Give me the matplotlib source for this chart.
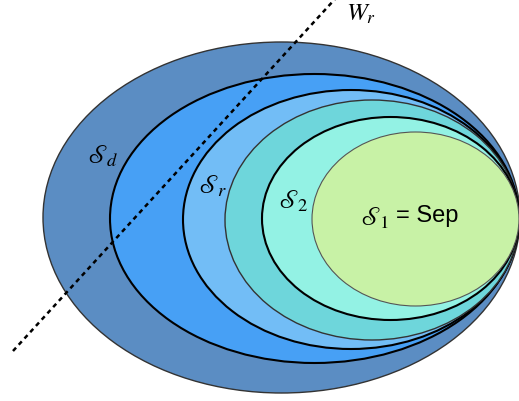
import matplotlib.pyplot as plt
from matplotlib.patches import Ellipse

plt.rcParams['mathtext.fontset'] = 'stix'

# nested sets, outer to inner (pixel units of the picture)
lefts = [43, 110, 183, 225, 262, 312]
rights = [520, 519, 519, 519, 519, 519]
tops = [43, 75, 91, 101, 118, 133]
bottoms = [394, 364, 350, 341, 321, 307]
fills = ['#5b8dc3', '#47a0f5', '#72bdf6', '#6ed6db', '#93f2e4', '#c8f2a6']
edges = ['#333333', 'black', 'black', '#333333', 'black', '#555555']
widths = [1.0, 1.5, 1.5, 1.0, 1.5, 0.8]

# the W_r line
line_x = [13, 335]
line_y = [352, 0]

fig = plt.figure(figsize=(5.19, 4.02), dpi=100)
ax = fig.add_axes([0, 0, 1, 1])
ax.set_xlim(0, 519)
ax.set_ylim(402, 0)
ax.axis('off')

for l, r, t, b, fc, ec, lw in zip(lefts, rights, tops, bottoms, fills, edges, widths):
    e = Ellipse(((l + r) / 2, (t + b) / 2), r - l, b - t,
                facecolor=fc, edgecolor=ec, linewidth=lw)
    ax.add_patch(e)

ax.plot(line_x, line_y, color='black', lw=1.8, dashes=(1.8, 1.6), zorder=5)

ax.text(346, 14, r'$W_r$', fontsize=18, ha='left', va='center', zorder=6)
ax.text(103, 156, r'$\mathscr{S}_d$', fontsize=19, ha='center', va='center')
ax.text(213, 186, r'$\mathscr{S}_r$', fontsize=19, ha='center', va='center')
ax.text(293, 201, r'$\mathscr{S}_2$', fontsize=19, ha='center', va='center')
ax.text(375, 218, r'$\mathscr{S}_1$', fontsize=19, ha='center', va='center')
ax.text(396, 216, '= Sep', fontsize=17, ha='left', va='center',
        family='Liberation Sans')

fig.savefig('out.png', dpi=100)
